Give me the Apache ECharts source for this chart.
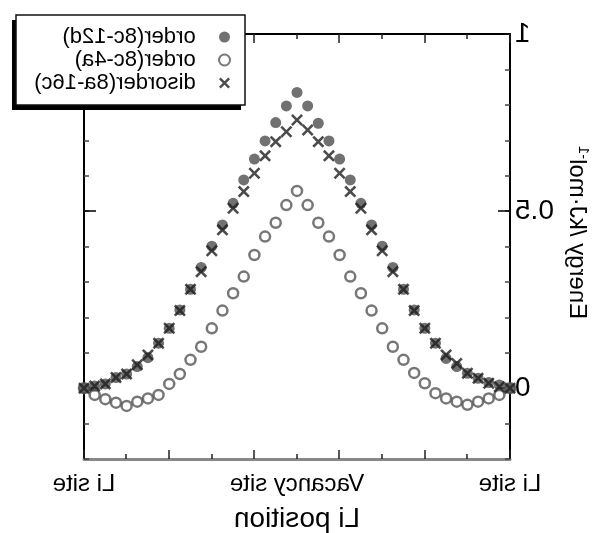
<!DOCTYPE html>
<html>
<head>
<meta charset="utf-8">
<script src="https://cdn.jsdelivr.net/npm/echarts@6/dist/echarts.min.js"></script>
<style>
  body { margin: 0; background: #fff; }
  /* the reference picture is a mirror image, so flip the whole chart */
  #chart { width: 610px; height: 533px; transform: scaleX(-1); }
</style>
</head>
<body>
<div id="chart"></div>
<script>
// Li position index (0 = Li site, 20 = vacancy site, 40 = Li site)
var positions = [];
for (var k = 0; k <= 40; k++) positions.push(k);

var order12d = [0, 0.009, 0.016, 0.028, 0.042, 0.061, 0.084, 0.127, 0.169, 0.221, 0.279,
    0.341, 0.401, 0.461, 0.522, 0.588, 0.647, 0.698, 0.748, 0.797, 0.835,
    0.797, 0.750, 0.698, 0.647, 0.588, 0.522, 0.461, 0.401, 0.341, 0.279,
    0.221, 0.169, 0.127, 0.086, 0.061, 0.040, 0.030, 0.012, 0.006, 0];
var order4a = [0, -0.019, -0.029, -0.038, -0.047, -0.038, -0.029, -0.014, 0.014, 0.043, 0.080,
    0.117, 0.169, 0.219, 0.268, 0.315, 0.376, 0.428, 0.467, 0.517, 0.557,
    0.517, 0.467, 0.428, 0.376, 0.315, 0.268, 0.219, 0.169, 0.117, 0.080,
    0.040, 0.012, -0.019, -0.029, -0.038, -0.050, -0.041, -0.031, -0.019, 0];
var disorder16c = [0, 0.004, 0.014, 0.028, 0.042, 0.070, 0.094, 0.127, 0.169, 0.219, 0.279,
    0.329, 0.388, 0.447, 0.508, 0.555, 0.607, 0.656, 0.696, 0.729, 0.757,
    0.724, 0.696, 0.656, 0.607, 0.555, 0.508, 0.447, 0.388, 0.329, 0.279,
    0.219, 0.169, 0.127, 0.094, 0.066, 0.040, 0.030, 0.012, 0.006, 0];

var siteValues = [0, 20, 40];
var siteLabels = ['Li site', 'Vacancy site', 'Li site'];
var energyTicks = [0, 0.5, 1];
var energyLabels = ['0', '0.5', '1'];

var seriesNames = ['order(8c-12d)', 'order(8c-4a)', 'disorder(8a-16c)'];

function pairs(values) {
    return values.map(function (v, i) { return [positions[i], v]; });
}

var FONT = 'Liberation Sans, Arial, sans-serif';
var crossPath = 'path://M0,1.5L1.5,0L5,3.5L8.5,0L10,1.5L6.5,5L10,8.5L8.5,10L5,6.5L1.5,10L0,8.5L3.5,5Z';

var chart = echarts.init(document.getElementById('chart'));

var xBase = { type: 'value', min: 0, max: 40, splitLine: { show: false } };
var yBase = { type: 'value', min: -0.2, max: 1, splitLine: { show: false } };
var TICK = { color: '#222', width: 1.5 };

var option = {
    backgroundColor: '#fff',
    animation: false,
    grid: { left: 100, right: 84, top: 34, bottom: 74, show: false, outerBoundsMode: 'none' },
    // legend frame with its drop shadow
    graphic: [
        { type: 'rect', z: 8, shape: { x: 369, y: 20, width: 229, height: 90 }, style: { fill: '#000' } },
        { type: 'rect', z: 9, shape: { x: 365, y: 15, width: 229, height: 90 }, style: { fill: '#fff', stroke: '#111', lineWidth: 1.5 } }
    ],
    legend: {
        z: 10,
        orient: 'vertical',
        left: 365,
        top: 15,
        padding: [11, 0, 11, 14],
        itemGap: 1,
        itemWidth: 11,
        itemHeight: 11,
        formatter: function (name) { return '\u00a0\u00a0\u00a0' + name; },
        textStyle: { color: '#000', fontSize: 22, lineHeight: 22, fontFamily: FONT },
        data: seriesNames
    },
    xAxis: [
        Object.assign({}, xBase, {
            position: 'bottom',
            interval: 4,
            name: 'Li position',
            nameLocation: 'middle',
            nameGap: 46,
            nameTextStyle: { color: '#000', fontSize: 28, fontFamily: FONT },
            axisLine: { show: true, onZero: false, lineStyle: { color: '#888', width: 3 } },
            axisTick: { show: true, inside: true, length: 5, lineStyle: TICK },
            axisLabel: {
                customValues: siteValues,
                margin: 13,
                color: '#000',
                fontSize: 24,
                fontFamily: FONT,
                formatter: function (v) { return siteLabels[siteValues.indexOf(v)]; }
            }
        }),
        Object.assign({}, xBase, {
            position: 'bottom',
            interval: 8,
            axisLine: { show: false, onZero: false },
            axisTick: { show: true, inside: true, length: 9, lineStyle: TICK },
            axisLabel: { show: false }
        }),
        Object.assign({}, xBase, {
            position: 'top',
            interval: 8,
            axisLine: { show: true, onZero: false, lineStyle: { color: '#000', width: 2 } },
            axisTick: { show: true, inside: true, length: 9, lineStyle: TICK },
            minorTick: { show: true, splitNumber: 2, length: 5, lineStyle: TICK },
            axisLabel: { show: false }
        })
    ],
    yAxis: [
        Object.assign({}, yBase, {
            position: 'left',
            interval: 0.1,
            name: '{gap| }Energy /kJ·mol{sup|-1}',
            nameLocation: 'middle',
            nameRotate: 90,
            nameGap: 53,
            nameTextStyle: {
                color: '#000', fontSize: 24, fontFamily: FONT,
                rich: {
                    gap: { width: 28, fontSize: 24, fontFamily: FONT },
                    sup: { fontSize: 15, fontFamily: FONT, color: '#000', padding: [0, 0, 12, 0] }
                }
            },
            axisLine: { show: true, onZero: false, lineStyle: { color: '#000', width: 2 } },
            axisTick: { show: true, inside: true, length: 5, lineStyle: { color: '#444', width: 1.5 } },
            axisLabel: {
                customValues: energyTicks,
                margin: 5,
                color: '#000',
                fontSize: 28,
                fontFamily: FONT,
                formatter: function (v) { return energyLabels[energyTicks.indexOf(v)]; }
            }
        }),
        Object.assign({}, yBase, {
            position: 'left',
            axisLine: { show: false, onZero: false },
            axisTick: { show: true, inside: true, length: 12, customValues: energyTicks, lineStyle: { color: '#000', width: 1.5 } },
            axisLabel: { show: false }
        }),
        Object.assign({}, yBase, {
            position: 'right',
            interval: 0.1,
            axisLine: { show: true, onZero: false, lineStyle: { color: '#000', width: 2 } },
            axisTick: { show: true, inside: true, length: 5, lineStyle: { color: '#444', width: 1.5 } },
            axisLabel: { show: false }
        }),
        Object.assign({}, yBase, {
            position: 'right',
            axisLine: { show: false, onZero: false },
            axisTick: { show: true, inside: true, length: 12, customValues: energyTicks, lineStyle: { color: '#000', width: 1.5 } },
            axisLabel: { show: false }
        })
    ],
    series: [
        {
            name: seriesNames[0],
            type: 'scatter',
            z: 3,
            symbol: 'circle',
            symbolSize: 11,
            itemStyle: { color: '#4d4d4d' },
            data: pairs(order12d)
        },
        {
            name: seriesNames[1],
            type: 'scatter',
            z: 2,
            symbol: 'circle',
            symbolSize: 10,
            itemStyle: { color: '#fff', borderColor: '#555', borderWidth: 2.5 },
            data: pairs(order4a)
        },
        {
            name: seriesNames[2],
            type: 'scatter',
            z: 4,
            symbol: crossPath,
            symbolSize: 12,
            itemStyle: { color: '#1e1e1e' },
            data: pairs(disorder16c)
        }
    ]
};

chart.setOption(option);
</script>
</body>
</html>
